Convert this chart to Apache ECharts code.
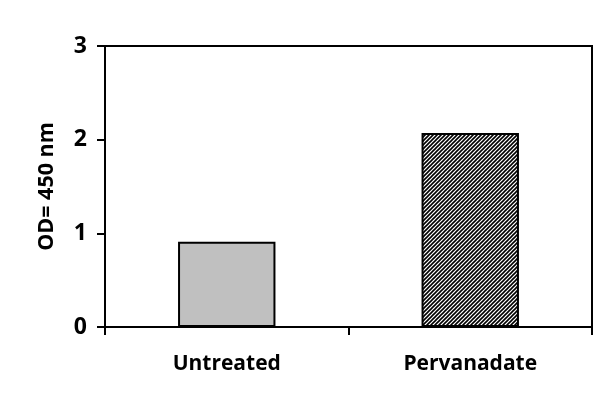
<!DOCTYPE html>
<html>
<head>
<meta charset="utf-8">
<script src="https://cdn.jsdelivr.net/npm/echarts@6/dist/echarts.min.js"></script>
<style>
  html, body { margin: 0; padding: 0; background: #fff; }
  #chart { width: 616px; height: 412px; }
</style>
</head>
<body>
<div id="chart"></div>
<script>
  var categories = ['Untreated', 'Pervanadate']
  var odValues = [0.91, 2.07]
  var yTicks = [0, 1, 2, 3]

  // hatch pattern for the second bar
  function hatchPattern () {
    var c = document.createElement('canvas')
    c.width = 4
    c.height = 4
    var ctx = c.getContext('2d')
    ctx.fillStyle = '#fff'
    ctx.fillRect(0, 0, 4, 4)
    ctx.strokeStyle = '#000'
    ctx.lineWidth = 1.6
    ctx.beginPath()
    ctx.moveTo(-1, 1); ctx.lineTo(1, -1)
    ctx.moveTo(0, 4); ctx.lineTo(4, 0)
    ctx.moveTo(3, 5); ctx.lineTo(5, 3)
    ctx.stroke()
    return c
  }

  var fills = ['#c0c0c0', { image: hatchPattern(), repeat: 'repeat' }]

  var font = 'Open Sans'
  var option = {
    animation: false,
    backgroundColor: '#fff',
    grid: {
      left: 105,
      right: 24,
      top: 46,
      bottom: 85,
      show: true,
      borderColor: '#000',
      borderWidth: 2
    },
    xAxis: {
      type: 'category',
      data: categories,
      axisLine: { lineStyle: { color: '#000', width: 2 } },
      axisTick: { show: true, length: 8, lineStyle: { color: '#000', width: 2 } },
      axisLabel: { color: '#000', fontWeight: 'bold', fontSize: 21, fontFamily: font, margin: 27 }
    },
    yAxis: {
      type: 'value',
      min: yTicks[0],
      max: yTicks[yTicks.length - 1],
      interval: 1,
      name: 'OD= 450 nm',
      nameLocation: 'middle',
      nameGap: 47,
      nameTextStyle: { color: '#000', fontWeight: 'bold', fontSize: 21.5, fontFamily: font },
      axisLine: { show: true, lineStyle: { color: '#000', width: 2 } },
      axisTick: { show: true, length: 8, lineStyle: { color: '#000', width: 2 } },
      axisLabel: { color: '#000', fontWeight: 'bold', fontSize: 23, fontFamily: font, margin: 18 },
      splitLine: { show: false }
    },
    series: [
      {
        type: 'bar',
        barWidth: '40%',
        data: odValues.map(function (v, i) {
          return { value: v, itemStyle: { color: fills[i] } }
        }),
        itemStyle: { borderColor: '#000', borderWidth: 2 }
      }
    ]
  }

  var chart = echarts.init(document.getElementById('chart'))
  chart.setOption(option)
</script>
</body>
</html>
